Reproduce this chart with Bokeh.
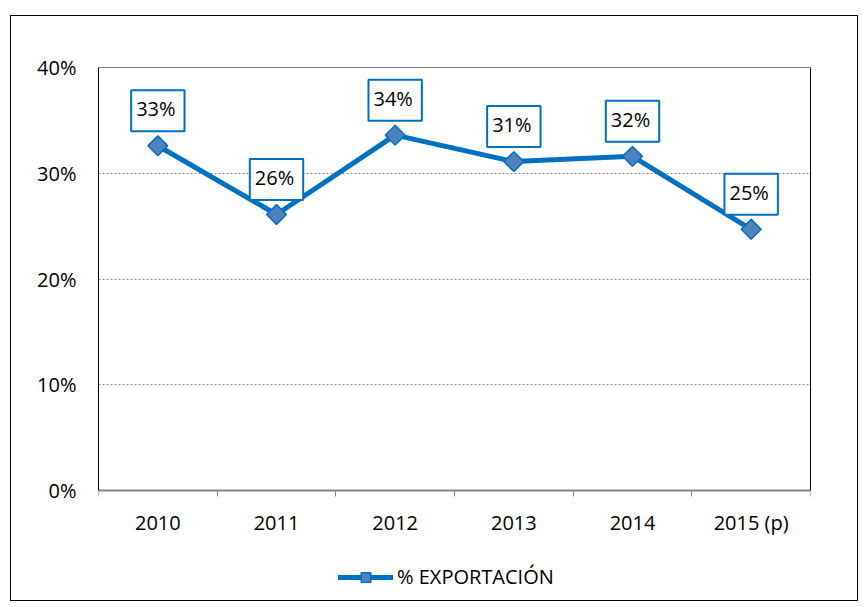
import math
from bokeh.plotting import figure
from bokeh.models import (ColumnDataSource, Range1d, FixedTicker, Span,
                          Legend, LegendItem, LinearAxis)
from bokeh.core.properties import value
from bokeh.embed import file_html
from bokeh.resources import INLINE

# ---- data ----
years = ["2010", "2011", "2012", "2013", "2014", "2015 (p)"]
export_pct = [32.6, 26.1, 33.6, 31.1, 31.6, 24.7]
point_labels = ["33%", "26%", "34%", "31%", "32%", "25%"]
y_ticks = [0, 10, 20, 30, 40]
y_tick_labels = ["0%", "10%", "20%", "30%", "40%"]
series_name = "% EXPORTACIÓN"

FONT = "Open Sans"
BLUE = "#0070C0"

xs = list(range(len(years)))
src = ColumnDataSource(dict(x=xs, y=export_pct, lab=point_labels))

# frame extends below the 0% line to host the legend (10.575 px per 1%)
p = figure(frame_width=712, frame_height=533,
           x_range=Range1d(-0.5, len(years) - 0.5), y_range=Range1d(-10.4, y_ticks[-1]),
           output_backend="svg", toolbar_location=None,
           min_border_left=87, min_border_top=51, min_border_right=47, min_border_bottom=0)
p.margin = (15, 0, 0, 10)
p.styles = {"border": "1px solid black"}
p.outline_line_color = None
p.background_fill_color = "white"
p.border_fill_color = "white"

# x axis at 0%: ticks at category boundaries, labels at centers
p.xaxis.fixed_location = 0
p.xaxis.ticker = FixedTicker(ticks=xs, minor_ticks=[i - 0.5 for i in range(len(years) + 1)])
p.xaxis.major_label_overrides = {i: y for i, y in enumerate(years)}
p.xaxis.major_tick_out = 0
p.xaxis.major_tick_in = 0
p.xaxis.minor_tick_out = 6
p.xaxis.minor_tick_in = 0
p.xaxis.minor_tick_line_color = "#868686"
p.xaxis.axis_line_color = "#868686"
p.xaxis.axis_line_width = 2
p.xaxis.major_label_standoff = 12
p.xaxis.major_label_text_font = FONT
p.xaxis.major_label_text_font_size = "20px"
p.xaxis.major_label_text_color = "black"

p.yaxis.ticker = FixedTicker(ticks=y_ticks, minor_ticks=[])
p.yaxis.bounds = (y_ticks[0], y_ticks[-1])
p.yaxis.major_label_overrides = {t: l for t, l in zip(y_ticks, y_tick_labels)}
p.yaxis.major_tick_out = 0
p.yaxis.major_tick_in = 0
p.yaxis.axis_line_color = "black"
p.yaxis.major_label_standoff = 22
p.yaxis.major_label_text_font = FONT
p.yaxis.major_label_text_font_size = "20px"
p.yaxis.major_label_text_color = "black"

# right frame border (0% .. 40%)
right_axis = LinearAxis(ticker=FixedTicker(ticks=[], minor_ticks=[]), bounds=(y_ticks[0], y_ticks[-1]),
                        axis_line_color="black", major_label_text_font_size="0px",
                        major_tick_out=0, major_tick_in=0, minor_tick_out=0, minor_tick_in=0)
p.add_layout(right_axis, "right")

p.xgrid.grid_line_color = None
p.ygrid.grid_line_color = "#8c8c8c"
p.ygrid.grid_line_dash = "2 2"
p.ygrid.grid_line_width = 1

# frame top border
p.add_layout(Span(location=y_ticks[-1], dimension="width", line_color="black", line_width=1))

r_line = p.line("x", "y", source=src, line_color=BLUE, line_width=5, line_cap="round", line_join="round")
r_pts = p.scatter("x", "y", source=src, marker="square", angle=math.pi / 4, size=14,
                  fill_color="#4F81BD", line_color=BLUE, line_width=1.5)

p.text("x", "y", text="lab", source=src, y_offset=-35,
       text_align="center", text_baseline="middle",
       text_font=value(FONT), text_font_size="20px", text_color="black",
       background_fill_color="white", border_line_color=BLUE, border_line_width=2,
       padding=(5, 9, 5, 9))

legend = Legend(items=[LegendItem(label=series_name, renderers=[r_line, r_pts])],
                location=(240, 10), orientation="horizontal",
                glyph_width=55, glyph_height=24, label_text_font=FONT,
                label_text_font_size="20px", label_text_color="black",
                border_line_color=None, background_fill_alpha=0,
                padding=0, margin=0, label_standoff=4, label_height=20)
p.add_layout(legend, "center")

open("out.html", "w").write(file_html(p, INLINE))
